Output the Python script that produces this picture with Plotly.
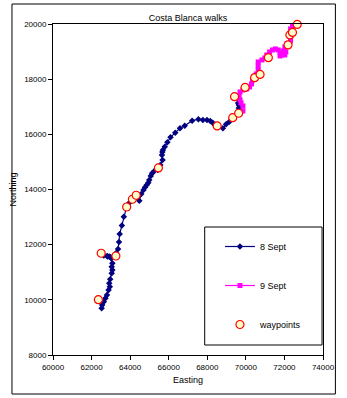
import plotly.graph_objects as go

# 8 Sept track (Easting, Northing)
sept8_e = [62520, 62550, 62634, 62718, 62797, 62881, 62945, 62915, 62965, 63044,
           63078, 63044, 63078, 63014, 62915, 62806, 62634, 62831, 62979, 63128,
           63276, 63375, 63424, 63459, 63572, 63671, 63819, 63953, 64116, 64264,
           64476, 64575, 64694, 64773, 64857, 64941, 64990, 65069, 65139, 65252,
           65435, 65564, 65682, 65648, 65672, 65697, 65796, 65929, 66092, 66339,
           66586, 66833, 67214, 67540, 67772, 67985, 68153, 68281, 68400, 68563,
           68810, 68973, 69141, 69304, 69437, 69586, 69635, 69635, 69600]
sept8_n = [9693, 9813, 9933, 10056, 10176, 10357, 10477, 10600, 10745, 10962,
           11082, 11202, 11325, 11506, 11572, 11590, 11608, 11572, 11553, 11572,
           11699, 11844, 12097, 12387, 12696, 13015, 13377, 13512, 13657, 13729,
           13595, 13838, 13983, 14081, 14164, 14248, 14346, 14491, 14589, 14672,
           14708, 14889, 15071, 15252, 15361, 15433, 15553, 15713, 15894, 16061,
           16220, 16314, 16496, 16547, 16521, 16521, 16485, 16423, 16340, 16267,
           16220, 16365, 16460, 16594, 16666, 16786, 16956, 17065, 17138]

# 9 Sept track
sept9_e = [69699, 69848, 69848, 69749, 69699, 69650, 69699, 69848, 70045, 70193,
           70292, 70341, 70391, 70539, 70638, 70638, 70638, 70836, 70984, 71083,
           71231, 71380, 71528, 71676, 71775, 71775, 71874, 71923, 72022, 72071,
           72022, 72121, 72318, 72318, 72318, 72318, 72417, 72417, 72565, 72763]
sept9_n = [16775, 16847, 17029, 17138, 17246, 17391, 17536, 17608, 17645, 17717,
           17826, 17971, 18080, 18189, 18334, 18479, 18624, 18697, 18769, 18878,
           18987, 19059, 19096, 19059, 18951, 18842, 18878, 19023, 18878, 18987,
           19168, 19277, 19386, 19531, 19676, 19821, 19930, 20075, 20075, 20147]

# waypoints
wp_e = [62352, 62500, 63261, 63819, 64116, 64313, 65465, 68513, 69319, 69625,
        69413, 69961, 70455, 70737, 71167, 72185, 72283, 72417, 72664]
wp_n = [10005, 11688, 11590, 13366, 13646, 13791, 14781, 16304, 16605, 16764,
        17366, 17700, 18055, 18171, 18780, 19241, 19603, 19694, 19984]

x_ticks = [60000, 62000, 64000, 66000, 68000, 70000, 72000, 74000]
y_ticks = [8000, 10000, 12000, 14000, 16000, 18000, 20000]

FONT = "Liberation Sans, Arial, sans-serif"

fig = go.Figure()
fig.add_trace(go.Scatter(
    x=sept8_e, y=sept8_n, mode="lines+markers", name="8 Sept",
    line=dict(color="#000080", width=1.2),
    marker=dict(symbol="diamond", size=5, color="#000080"),
    legendgroup="a"))
fig.add_trace(go.Scatter(
    x=sept9_e, y=sept9_n, mode="lines+markers", name="9 Sept",
    line=dict(color="#FF00FF", width=1.2),
    marker=dict(symbol="square", size=5, color="#FF00FF"),
    legendgroup="b"))
fig.add_trace(go.Scatter(
    x=wp_e, y=wp_n, mode="markers", name="waypoints",
    marker=dict(symbol="circle", size=8, color="#FFFFCC",
                line=dict(color="#FF0000", width=1.2)),
    legendgroup="c", cliponaxis=False))

W, H = 347, 398
L, R, T, B = 47, 17, 24, 43
pw, ph = W - L - R, H - T - B

def px_x(p):
    return (p - L) / pw

def px_y(p):
    return (H - B - p) / ph

axis_common = dict(showline=True, linecolor="black", linewidth=1, mirror=True,
                   ticks="outside", ticklen=4, tickcolor="black", showgrid=False,
                   zeroline=False, tickfont=dict(family=FONT, size=8, color="black"))

fig.update_layout(
    width=W, height=H,
    margin=dict(l=L, r=R, t=T, b=B),
    paper_bgcolor="white", plot_bgcolor="white",
    title=dict(text="Costa Blanca walks", x=0.5, xref="paper", xanchor="center",
               y=1 - 18 / H, yanchor="middle",
               font=dict(family=FONT, size=9, color="black")),
    xaxis=dict(range=[60000, 74000], tickvals=x_ticks,
               ticktext=[str(v) for v in x_ticks],
               title=dict(text="Easting", standoff=6,
                          font=dict(family=FONT, size=9, color="black")),
               **axis_common),
    yaxis=dict(range=[8000, 20000], tickvals=y_ticks,
               ticktext=[str(v) for v in y_ticks],
               title=dict(text="Northing", standoff=6,
                          font=dict(family=FONT, size=9, color="black")),
               **axis_common),
    legend=dict(x=px_x(222), y=px_y(232), xanchor="left", yanchor="top",
                bgcolor="rgba(0,0,0,0)", borderwidth=0,
                traceorder="grouped", tracegroupgap=20,
                font=dict(family=FONT, size=9, color="black")),
    showlegend=True,
    shapes=[
        dict(type="rect", xref="paper", yref="paper",
             x0=px_x(4), x1=px_x(343), y0=px_y(394), y1=px_y(4),
             line=dict(color="black", width=1), fillcolor="rgba(0,0,0,0)"),
        dict(type="rect", xref="paper", yref="paper",
             x0=px_x(206), x1=px_x(329), y0=px_y(345), y1=px_y(227),
             line=dict(color="black", width=1), fillcolor="white"),
    ],
)

fig.write_html("out.html")
